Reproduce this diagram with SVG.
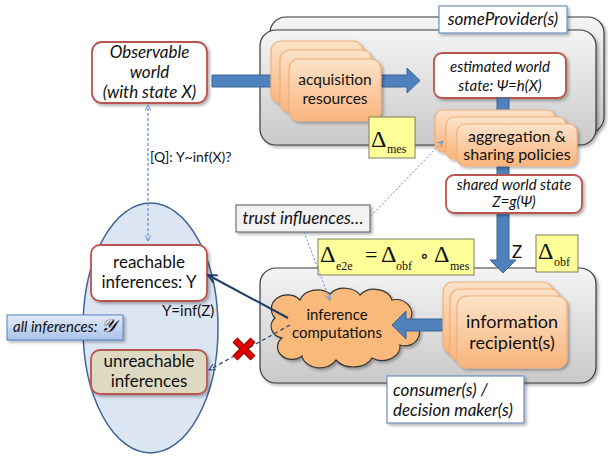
<svg xmlns="http://www.w3.org/2000/svg" width="608" height="456" viewBox="0 0 608 456">
<defs>
<linearGradient id="gGray" x1="0" y1="0" x2="0" y2="1"><stop offset="0" stop-color="#f4f4f4"/><stop offset="1" stop-color="#c9c9c9"/></linearGradient>
<linearGradient id="gOrange" x1="0" y1="0" x2="0" y2="1"><stop offset="0" stop-color="#fde3c9"/><stop offset="1" stop-color="#f9b47c"/></linearGradient>
<linearGradient id="gBlue" x1="0" y1="0" x2="0" y2="1"><stop offset="0" stop-color="#e3ecf9"/><stop offset="1" stop-color="#a9c3ea"/></linearGradient>
<filter id="sh" x="-10%" y="-10%" width="130%" height="130%"><feDropShadow dx="2" dy="2" stdDeviation="1.5" flood-color="#000" flood-opacity="0.3"/></filter>
<marker id="mOpen" viewBox="0 0 10 10" refX="9" refY="5" markerWidth="7" markerHeight="7" orient="auto" markerUnits="userSpaceOnUse"><path d="M1,1 L9,5 L1,9" fill="none" stroke="#5b8fd1" stroke-width="1.3"/></marker>
<marker id="mOpenStart" viewBox="0 0 10 10" refX="1" refY="5" markerWidth="7" markerHeight="7" orient="auto" markerUnits="userSpaceOnUse"><path d="M9,1 L1,5 L9,9" fill="none" stroke="#5b8fd1" stroke-width="1.3"/></marker>
<marker id="mNavy" viewBox="0 0 10 10" refX="9" refY="5" markerWidth="11" markerHeight="11" orient="auto" markerUnits="userSpaceOnUse"><path d="M1,1 L9,5 L1,9" fill="none" stroke="#1f3b6b" stroke-width="1.6"/></marker>
<marker id="mNavyS" viewBox="0 0 10 10" refX="9" refY="5" markerWidth="8" markerHeight="8" orient="auto" markerUnits="userSpaceOnUse"><path d="M1,1 L9,5 L1,9" fill="none" stroke="#2e4d7f" stroke-width="1.3"/></marker>
</defs>
<style>
text{font-family:Lato,"Open Sans","Liberation Sans",sans-serif;fill:#111}
.it{font-style:italic}
.m{font-family:"Liberation Serif","DejaVu Serif",serif}
.c{text-anchor:middle}
.gray{fill:url(#gGray);stroke:#3a3a3a;stroke-width:1.2}
.orange{fill:url(#gOrange);stroke:#f2b07a;stroke-width:1.2}
.white{fill:#fff;stroke:#b85450;stroke-width:1.8}
.yel{fill:#ffff99;stroke:#7f7f60;stroke-width:1}
.lbl{fill:#fff;stroke:#6f8fba;stroke-width:1.2}
.blk{fill:#4f81bd;stroke:#3b6596;stroke-width:1}
</style>

<g id="all-inferences-set"><ellipse cx="150.5" cy="328" rx="67.5" ry="125" fill="#dce6f2" stroke="#3f6496" stroke-width="1.5"/></g>

<g id="provider">
<rect x="270" y="17" width="334" height="116" rx="16" class="gray" filter="url(#sh)"/>
<rect x="260" y="30" width="336" height="115" rx="16" class="gray" filter="url(#sh)"/>
</g>

<g id="consumer"><rect x="260" y="268" width="336" height="115" rx="16" class="gray" filter="url(#sh)"/></g>

<g id="inference-computations">
<path d="M282,338 A14,12 0 0 1 275,318 A16,14 0 0 1 300,300 A18,14 0 0 1 330,294 A18,14 0 0 1 360,295 A18,14 0 0 1 392,300 A16,14 0 0 1 410,320 A14,13 0 0 1 400,345 A18,14 0 0 1 372,358 A20,14 0 0 1 336,360 A18,14 0 0 1 302,356 A14,12 0 0 1 282,338 Z" fill="#f9b97a" stroke="#333" stroke-width="1.2" filter="url(#sh)"/>
<text x="337" y="320" class="c" font-size="15">inference</text>
<text x="337" y="338" class="c" font-size="15">computations</text>
</g>

<g id="observable-world">
<rect x="92" y="42" width="115" height="61" rx="10" class="white" filter="url(#sh)"/>
<text x="149.5" y="58" class="c it" font-size="17">Observable</text>
<text x="149.5" y="78" class="c it" font-size="17">world</text>
<text x="149.5" y="98" class="c it" font-size="17">(with state X)</text>
</g>

<g id="estimated-world-state">
<rect x="434" y="53" width="132" height="45" rx="8" class="white" filter="url(#sh)"/>
<text x="500" y="72" class="c it" font-size="15">estimated world</text>
<text x="500" y="91" class="c it" font-size="15">state: Ψ=h(X)</text>
</g>

<g id="block-arrows">
<path d="M212,75 H407 V68 L420,80.5 L407,93 V87 H212 Z" class="blk"/>
<path d="M497,98 H509 V260 H516 L503,273 L490,260 H497 Z" class="blk"/>
<path d="M451,319 H406 V311 L392,325 L406,339 V331 H451 Z" class="blk"/>
</g>

<g id="acquisition-resources">
<rect x="271" y="41" width="92" height="62" rx="10" class="orange" filter="url(#sh)"/>
<rect x="280" y="50" width="92" height="62" rx="10" class="orange" filter="url(#sh)"/>
<rect x="289" y="59" width="92" height="62" rx="10" class="orange" filter="url(#sh)"/>
<text x="335" y="85" class="c" font-size="15.5">acquisition</text>
<text x="335" y="104" class="c" font-size="15.5">resources</text>
</g>

<g id="aggregation-sharing">
<rect x="435" y="110" width="120" height="42" rx="8" class="orange" filter="url(#sh)"/>
<rect x="446" y="117" width="120" height="42" rx="8" class="orange" filter="url(#sh)"/>
<rect x="457" y="124" width="120" height="42" rx="8" class="orange" filter="url(#sh)"/>
<text x="517" y="142" class="c" font-size="16">aggregation &amp;</text>
<text x="517" y="160" class="c" font-size="16">sharing policies</text>
</g>

<g id="shared-world-state">
<rect x="446" y="175" width="136" height="38" rx="8" class="white" filter="url(#sh)"/>
<text x="514" y="190" class="c it" font-size="15">shared world state</text>
<text x="514" y="207" class="c it" font-size="15">Z=g(Ψ)</text>
</g>

<g id="information-recipients">
<rect x="443" y="282" width="110" height="72" rx="10" class="orange" filter="url(#sh)"/>
<rect x="450" y="289" width="110" height="72" rx="10" class="orange" filter="url(#sh)"/>
<rect x="457" y="296" width="110" height="72" rx="10" class="orange" filter="url(#sh)"/>
<text x="512" y="328" class="c" font-size="18">information</text>
<text x="512" y="349" class="c" font-size="18">recipient(s)</text>
</g>

<g id="reachable-inferences">
<rect x="91" y="245" width="116" height="56" rx="9" class="white" filter="url(#sh)"/>
<text x="149" y="268" class="c" font-size="17">reachable</text>
<text x="149" y="288" class="c" font-size="17">inferences: Y</text>
</g>

<g id="unreachable-inferences">
<rect x="91" y="350" width="116" height="44" rx="9" fill="#ddd9c3" stroke="#b85450" stroke-width="1.8" filter="url(#sh)"/>
<text x="149" y="367" class="c" font-size="17">unreachable</text>
<text x="149" y="387" class="c" font-size="17">inferences</text>
</g>

<g id="all-inferences-label">
<rect x="7" y="315" width="116" height="25" fill="url(#gBlue)" stroke="#4f81bd" stroke-width="1" filter="url(#sh)"/>
<text x="13" y="332" class="it" font-size="15">all inferences: <tspan class="m" font-size="19">𝒴</tspan></text>
</g>

<g id="someProvider-label">
<rect x="439" y="6" width="128" height="27" class="lbl" filter="url(#sh)"/>
<text x="503" y="25" class="c it" font-size="17">someProvider(s)</text>
</g>

<g id="consumer-label">
<rect x="387" y="376" width="137" height="47" class="lbl" filter="url(#sh)"/>
<text x="393" y="396" class="it" font-size="17">consumer(s) /</text>
<text x="393" y="416" class="it" font-size="17">decision maker(s)</text>
</g>

<g id="trust-influences">
<rect x="236" y="205" width="134" height="27" fill="#f2f2f2" stroke="#595959" stroke-width="1" filter="url(#sh)"/>
<text x="303" y="224" class="c it" font-size="17">trust influences…</text>
</g>

<g id="delta-mes">
<rect x="369" y="117" width="46" height="41" class="yel"/>
<text x="371" y="147" class="m" font-size="24">Δ</text>
<text x="387" y="153" class="m" font-size="12">mes</text>
</g>

<g id="delta-obf">
<rect x="536" y="235" width="42" height="37" class="yel"/>
<text x="538" y="259" class="m" font-size="24">Δ</text>
<text x="554" y="266" class="m" font-size="12">obf</text>
</g>

<g id="delta-e2e">
<rect x="318" y="239" width="156" height="36" class="yel"/>
<text x="320" y="262" class="m" font-size="24">Δ</text>
<text x="336" y="270" class="m" font-size="12">e2e</text>
<text x="365" y="262" class="m" font-size="22">=</text>
<text x="381" y="262" class="m" font-size="24">Δ</text>
<text x="396" y="270" class="m" font-size="12">obf</text>
<text x="420" y="262" class="m" font-size="18">∘</text>
<text x="434" y="262" class="m" font-size="24">Δ</text>
<text x="450" y="270" class="m" font-size="12">mes</text>
</g>

<g id="connectors">
<line x1="148" y1="241" x2="148" y2="105" stroke="#5b8fd1" stroke-width="1.2" stroke-dasharray="3 2" marker-start="url(#mOpenStart)" marker-end="url(#mOpen)"/>
<text x="150" y="162" font-size="14">[Q]: Y~inf(X)?</text>
<line x1="371" y1="216" x2="443" y2="141" stroke="#5b8fd1" stroke-width="1" stroke-dasharray="2 2" marker-end="url(#mOpen)"/>
<line x1="304" y1="232" x2="330" y2="300" stroke="#5b8fd1" stroke-width="1" stroke-dasharray="2 2" marker-end="url(#mOpen)"/>
<line x1="288" y1="318" x2="208" y2="275" stroke="#1f3b6b" stroke-width="2" marker-end="url(#mNavy)"/>
<text x="162" y="316" font-size="15">Y=inf(Z)</text>
<line x1="290" y1="325" x2="209" y2="370" stroke="#2e4d7f" stroke-width="1.3" stroke-dasharray="4 3" marker-end="url(#mNavyS)"/>
<text x="517" y="258" class="c" font-size="17">Z</text>
</g>

<g id="blocked-mark">
<path d="M235,340 L253,358 M253,340 L235,358" stroke="#8b0000" stroke-width="7" stroke-linecap="butt"/>
<path d="M235,340 L253,358 M253,340 L235,358" stroke="#e00000" stroke-width="5" stroke-linecap="butt"/>
</g>
</svg>
